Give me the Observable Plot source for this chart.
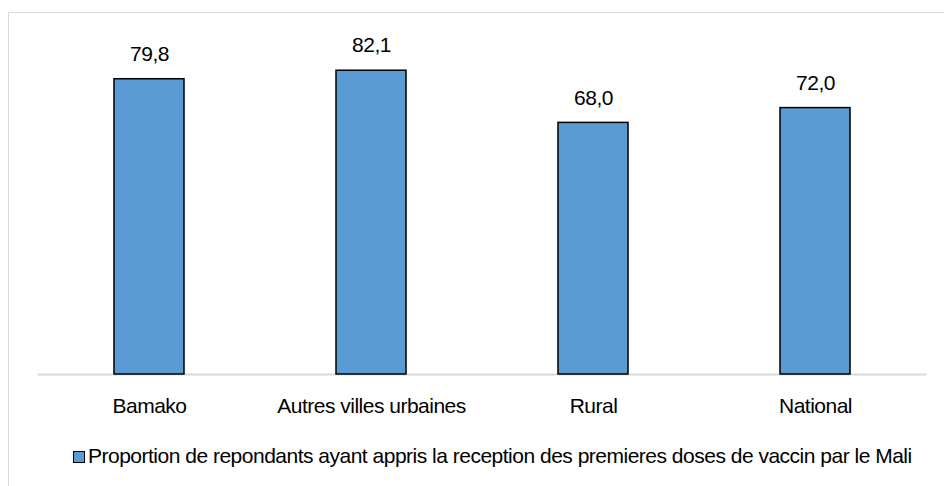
<!DOCTYPE html>
<html>
<head>
<meta charset="utf-8">
<script src="https://cdn.jsdelivr.net/npm/d3@7"></script>
<script src="https://cdn.jsdelivr.net/npm/@observablehq/plot@0.6"></script>
<style>
  html, body { margin: 0; padding: 0; background: #fff; }
  #wrap { position: relative; width: 944px; height: 486px; overflow: hidden; font-family: "Liberation Sans", Arial, sans-serif; }
  #frame { position: absolute; left: 8px; top: 12px; width: 1000px; height: 600px; border-top: 1.5px solid #d9d9d9; border-left: 1.5px solid #d9d9d9; }
  #chart { position: absolute; left: 0; top: 0; }
  #chart svg text { letter-spacing: -0.5px; }
  #legend { position: absolute; left: 0; top: 445px; width: 944px; height: 24px; }
  #legend .sw { position: absolute; left: 73px; top: 6px; width: 10px; height: 10px; background: #5B9BD5; border: 1.5px solid #000; }
  #legend .lb { position: absolute; left: 88px; top: 0; font-size: 21px; line-height: 21px; letter-spacing: -0.5px; color: #000; white-space: nowrap; }
</style>
</head>
<body>
<div id="wrap">
  <div id="frame"></div>
  <div id="chart"></div>
  <div id="legend"><div class="sw"></div><div class="lb" id="legendText"></div></div>
</div>
<script>
const categories = ["Bamako", "Autres villes urbaines", "Rural", "National"];
const values = [79.8, 82.1, 68.0, 72.0];
const seriesName = "Proportion de repondants ayant appris la reception des premieres doses de vaccin par le Mali";

const data = categories.map((c, i) => ({category: c, value: values[i]}));
const fmt = d => d.toFixed(1).replace(".", ",");

const plot = Plot.plot({
  width: 944,
  height: 430,
  marginLeft: 37.5,
  marginRight: 17.5,
  marginTop: 41,
  marginBottom: 56,
  style: {fontFamily: "'Liberation Sans', Arial, sans-serif", fontSize: "21px", color: "#000", background: "transparent"},
  x: {domain: categories, padding: 0, label: null},
  y: {domain: [0, 90], axis: null},
  marks: [
    Plot.ruleY([0], {stroke: "#d9d9d9", strokeWidth: 2}),
    Plot.barY(data, {x: "category", y: "value", fill: "#5B9BD5", stroke: "#000", strokeWidth: 1.5, insetLeft: 76, insetRight: 76}),
    Plot.text(data, {x: "category", y: "value", text: d => fmt(d.value), dy: -25, fill: "#000", fontSize: 21}),
    Plot.axisX({tickSize: 0, tickPadding: 24, fontSize: 21, fill: "#000"})
  ]
});
document.getElementById("chart").appendChild(plot);
document.getElementById("legendText").textContent = seriesName;
</script>
</body>
</html>
